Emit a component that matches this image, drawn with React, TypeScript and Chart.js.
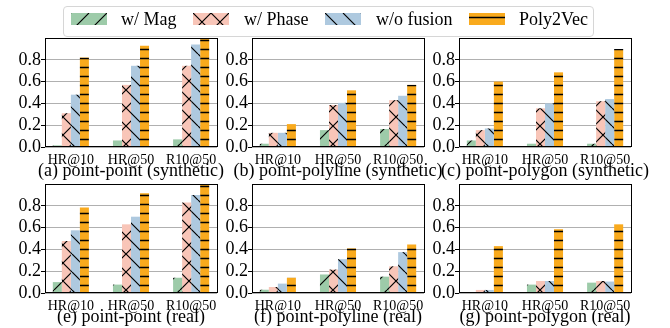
import React, { useEffect, useRef } from 'react';
import { Chart, registerables } from 'chart.js';

Chart.register(...registerables);

// ---------------- data ----------------
const categories = ['HR@10', 'HR@50', 'R10@50'];
const seriesNames = ['w/ Mag', 'w/ Phase', 'w/o fusion', 'Poly2Vec'];
const seriesColors = ['#9dcba9', '#f8c5b8', '#aec9df', '#f9aa1d'];
const seriesHatches = ['/', 'x', '\\', '-'];
const yTickValues = [0, 0.2, 0.4, 0.6, 0.8];

const panelTitles = [
  '(a) point-point (synthetic)',
  '(b) point-polyline (synthetic)',
  '(c) point-polygon (synthetic)',
  '(e) point-point (real)',
  '(f) point-polyline (real)',
  '(g) point-polygon (real)',
];

// (a) point-point (synthetic)
const aMag = [0.015, 0.06, 0.07];
const aPhase = [0.31, 0.57, 0.745];
const aNoFusion = [0.48, 0.745, 0.94];
const aPoly2Vec = [0.82, 0.93, 0.99];

// (b) point-polyline (synthetic)
const bMag = [0.03, 0.155, 0.165];
const bPhase = [0.13, 0.385, 0.43];
const bNoFusion = [0.13, 0.405, 0.47];
const bPoly2Vec = [0.21, 0.52, 0.57];

// (c) point-polygon (synthetic)
const cMag = [0.06, 0.03, 0.03];
const cPhase = [0.155, 0.355, 0.42];
const cNoFusion = [0.17, 0.4, 0.44];
const cPoly2Vec = [0.6, 0.685, 0.9];

// (e) point-point (real)
const eMag = [0.1, 0.077, 0.14];
const ePhase = [0.477, 0.63, 0.83];
const eNoFusion = [0.575, 0.7, 0.9];
const ePoly2Vec = [0.785, 0.915, 0.995];

// (f) point-polyline (real)
const fMag = [0.03, 0.17, 0.15];
const fPhase = [0.055, 0.215, 0.245];
const fNoFusion = [0.086, 0.31, 0.375];
const fPoly2Vec = [0.14, 0.41, 0.445];

// (g) point-polygon (real)
const gMag = [0.005, 0.077, 0.095];
const gPhase = [0.028, 0.11, 0.11];
const gNoFusion = [0.028, 0.11, 0.105];
const gPoly2Vec = [0.43, 0.585, 0.63];

const panelValues = [
  [aMag, aPhase, aNoFusion, aPoly2Vec],
  [bMag, bPhase, bNoFusion, bPoly2Vec],
  [cMag, cPhase, cNoFusion, cPoly2Vec],
  [eMag, ePhase, eNoFusion, ePoly2Vec],
  [fMag, fPhase, fNoFusion, fPoly2Vec],
  [gMag, gPhase, gNoFusion, gPoly2Vec],
];

// ---------------- layout ----------------
const FONT = "'Liberation Serif', 'Times New Roman', serif";
const Y_AXIS_W = 45;
const PLOT_W = 172;
const PLOT_H = 109;
const X_AXIS_H = 22;
const PAD_TOP = 2;
const PAD_RIGHT = 3;
const plotLefts = [45, 252, 459];
const plotTops = [38, 184];
const titleTops = [161, 307];

function makeHatch(target: CanvasRenderingContext2D, kind: string, color: string) {
  const P = 18;
  const c = document.createElement('canvas');
  c.width = P;
  c.height = P;
  const ctx = c.getContext('2d') as CanvasRenderingContext2D;
  ctx.fillStyle = color;
  ctx.fillRect(0, 0, P, P);
  ctx.strokeStyle = '#000';
  ctx.lineWidth = 1.2;
  ctx.beginPath();
  if (kind === '/' || kind === 'x') {
    for (let k = -1; k <= 1; k++) {
      ctx.moveTo(k * P, P);
      ctx.lineTo(k * P + P, 0);
    }
  }
  if (kind === '\\' || kind === 'x') {
    for (let k = -1; k <= 1; k++) {
      ctx.moveTo(k * P, 0);
      ctx.lineTo(k * P + P, P);
    }
  }
  if (kind === '-') {
    ctx.lineWidth = 1.5;
    ctx.moveTo(0, 4.5);
    ctx.lineTo(P, 4.5);
    ctx.moveTo(0, 13.5);
    ctx.lineTo(P, 13.5);
  }
  ctx.stroke();
  return target.createPattern(c, 'repeat') as CanvasPattern;
}

const framePlugin = {
  id: 'frame',
  afterDraw(chart: any) {
    const { ctx, chartArea } = chart;
    const { left, top, right, bottom } = chartArea;
    ctx.save();
    ctx.strokeStyle = '#000';
    ctx.lineWidth = 1;
    ctx.strokeRect(Math.round(left) + 0.5, Math.round(top) + 0.5, Math.round(right - left), Math.round(bottom - top) - 1);
    ctx.restore();
  },
};

function Panel({ index }: { index: number }) {
  const ref = useRef<HTMLCanvasElement>(null);
  const col = index % 3;
  const row = Math.floor(index / 3);
  const canvasLeft = plotLefts[col] - Y_AXIS_W;
  const canvasTop = plotTops[row] - PAD_TOP;
  const cw = Y_AXIS_W + PLOT_W + PAD_RIGHT;
  const ch = PAD_TOP + PLOT_H + X_AXIS_H;

  useEffect(() => {
    const canvas = ref.current as HTMLCanvasElement;
    const ctx = canvas.getContext('2d') as CanvasRenderingContext2D;
    const values = panelValues[index];
    const chart = new Chart(ctx, {
      type: 'bar',
      data: {
        datasets: values.map((vals, si) => ({
          label: seriesNames[si],
          data: vals.map((v, ci) => ({ x: ci, y: v })),
          backgroundColor: makeHatch(ctx, seriesHatches[si], seriesColors[si]),
          borderWidth: 0,
          categoryPercentage: 0.6,
          barPercentage: 1.0,
        })),
      },
      options: {
        animation: false,
        responsive: false,
        devicePixelRatio: 1,
        font: { family: FONT },
        layout: { padding: { top: PAD_TOP, right: PAD_RIGHT, left: 0, bottom: 0 } },
        plugins: { legend: { display: false }, tooltip: { enabled: false } },
        scales: {
          x: {
            type: 'linear',
            min: -0.43,
            max: 2.43,
            offset: false,
            grid: { display: false, offset: false },
            border: { display: false },
            afterBuildTicks: (scale: any) => {
              scale.ticks = categories.map((_, i) => ({ value: i }));
            },
            afterFit: (scale: any) => {
              scale.height = X_AXIS_H;
              scale.paddingLeft = 0;
              scale.paddingRight = 0;
            },
            ticks: {
              autoSkip: false,
              maxRotation: 0,
              minRotation: 0,
              padding: -3,
              color: '#000',
              font: { family: FONT, size: 14 },
              callback: (v: any) => categories[Math.round(Number(v))] ?? '',
            },
          },
          y: {
            min: 0,
            max: 1,
            border: { display: false },
            grid: { color: '#b0b0b0', lineWidth: 1, tickColor: '#000', tickLength: 4, drawTicks: true },
            afterBuildTicks: (scale: any) => {
              scale.ticks = yTickValues.map((v) => ({ value: v }));
            },
            afterFit: (scale: any) => {
              scale.width = Y_AXIS_W;
              scale.paddingTop = 0;
              scale.paddingBottom = 0;
            },
            ticks: {
              padding: 0,
              color: '#000',
              font: { family: FONT, size: 18 },
              callback: (v: any) => Number(v).toFixed(1),
            },
          },
        },
      },
      plugins: [framePlugin],
    } as any);
    return () => chart.destroy();
  }, [index]);

  return (
    <>
      <canvas
        ref={ref}
        width={cw}
        height={ch}
        style={{ position: 'absolute', left: canvasLeft, top: canvasTop, width: cw, height: ch }}
      />
      <div
        style={{
          position: 'absolute',
          left: plotLefts[col] - 40,
          width: PLOT_W + 80,
          top: titleTops[row],
          textAlign: 'center',
          fontFamily: FONT,
          fontSize: 18,
          lineHeight: '18px',
          whiteSpace: 'nowrap',
          color: '#000',
        }}
      >
        {panelTitles[index]}
      </div>
    </>
  );
}

function Swatch({ si }: { si: number }) {
  const ref = useRef<HTMLCanvasElement>(null);
  useEffect(() => {
    const c = ref.current as HTMLCanvasElement;
    const ctx = c.getContext('2d') as CanvasRenderingContext2D;
    ctx.clearRect(0, 0, c.width, c.height);
    ctx.fillStyle = makeHatch(ctx, seriesHatches[si], seriesColors[si]);
    ctx.fillRect(0, 0, c.width, c.height);
  }, [si]);
  return <canvas ref={ref} width={36} height={12} style={{ display: 'block', width: 36, height: 12 }} />;
}

const swatchLefts = [71, 193, 325, 469];
const labelLefts = [121, 244, 376, 519];

function Legend() {
  return (
    <>
      <div
        style={{
          position: 'absolute',
          left: 63,
          top: 6,
          width: 531,
          height: 31,
          boxSizing: 'border-box',
          border: '1px solid #d6d6d6',
          borderRadius: 4,
          background: 'rgba(255,255,255,0.85)',
        }}
      />
      {seriesNames.map((name, si) => (
        <React.Fragment key={name}>
          <div style={{ position: 'absolute', left: swatchLefts[si], top: 13 }}>
            <Swatch si={si} />
          </div>
          <div
            style={{
              position: 'absolute',
              left: labelLefts[si],
              top: 10,
              fontFamily: FONT,
              fontSize: 18,
              lineHeight: '18px',
              whiteSpace: 'nowrap',
              color: '#000',
            }}
          >
            {name}
          </div>
        </React.Fragment>
      ))}
    </>
  );
}

export default function App() {
  return (
    <div style={{ position: 'absolute', left: 0, top: 0, width: 670, height: 328, background: '#fff', overflow: 'hidden' }}>
      {panelTitles.map((_, i) => (
        <Panel key={i} index={i} />
      ))}
      <Legend />
    </div>
  );
}
